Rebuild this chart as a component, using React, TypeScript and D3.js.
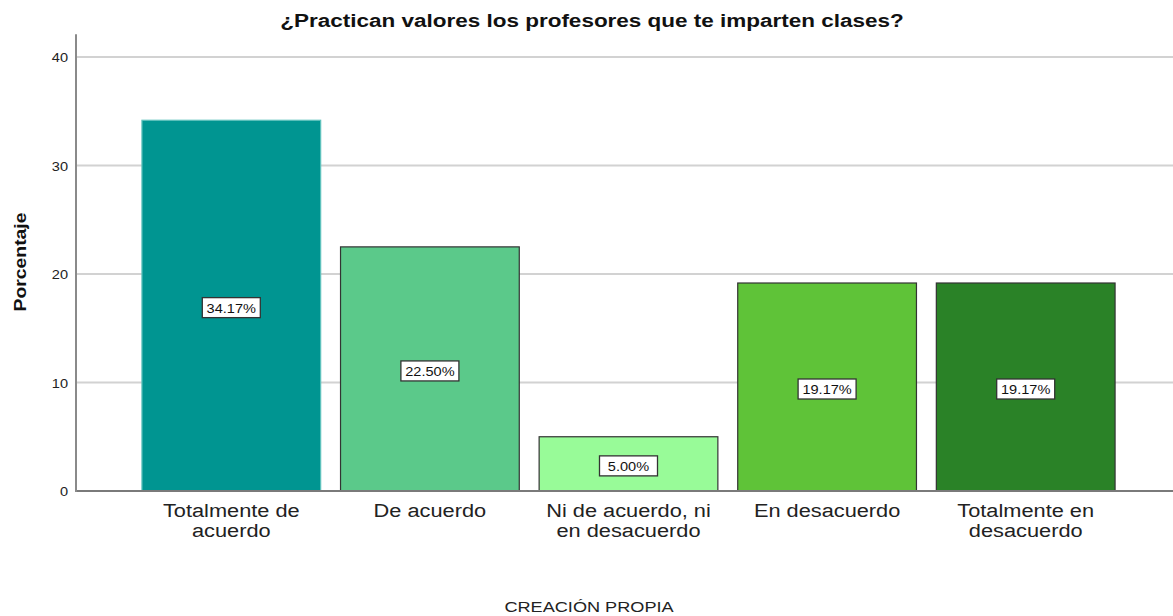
import * as d3 from "d3";

const categories = [
  ["Totalmente de", "acuerdo"],
  ["De acuerdo"],
  ["Ni de acuerdo, ni", "en desacuerdo"],
  ["En desacuerdo"],
  ["Totalmente en", "desacuerdo"],
];
const values = [34.17, 22.5, 5.0, 19.17, 19.17];
const colors = ["#009591", "#5bc98a", "#98fb98", "#5fc338", "#2a8227"];
const strokes = ["#5fc2bd", "#333333", "#333333", "#333333", "#333333"];
const yTicks = [0, 10, 20, 30, 40];

const W = 1173;
const H = 616;
const FONT = "'Liberation Sans', Arial, sans-serif";

// the original text is set a bit wider than Liberation Sans, stretch it
function Label({
  x,
  y,
  sx = 1.2,
  anchor = "middle",
  children,
  ...rest
}: any) {
  return (
    <text
      transform={`translate(${x},${y}) scale(${sx},1)`}
      textAnchor={anchor}
      {...rest}
    >
      {children}
    </text>
  );
}

export default function App() {
  const left = 76;
  const right = W;
  const bottom = 491;

  const x = d3
    .scaleBand<number>()
    .domain(values.map((_, i) => i))
    .range([132, 1125])
    .paddingInner(0.1)
    .paddingOuter(0.05);

  const y = d3.scaleLinear().domain([0, 40]).range([bottom, 57]);

  return (
    <svg
      width={W}
      height={H}
      style={{ position: "absolute", left: 0, top: 0, background: "#fff" }}
      fontFamily={FONT}
    >
      {/* grid */}
      {yTicks.map((t) => (
        <line
          key={t}
          x1={left}
          x2={right}
          y1={y(t)}
          y2={y(t)}
          stroke="#d2d2d2"
          strokeWidth={2}
        />
      ))}

      {/* bars */}
      {values.map((v, i) => (
        <rect
          key={i}
          x={x(i)}
          y={y(v)}
          width={x.bandwidth()}
          height={bottom - y(v)}
          fill={colors[i]}
          stroke={strokes[i]}
          strokeWidth={1.2}
        />
      ))}

      {/* axes */}
      <line x1={left} x2={right} y1={bottom} y2={bottom} stroke="#7a7a7a" strokeWidth={2} />
      <line x1={left} x2={left} y1={y(42.1)} y2={bottom + 1} stroke="#8a8a8a" strokeWidth={2} />
      {yTicks.map((t) => (
        <Label
          key={t}
          x={left - 8}
          y={y(t) + 5}
          sx={1.12}
          anchor="end"
          fontSize={13}
          fill="#222"
        >
          {t}
        </Label>
      ))}

      {/* value labels */}
      {values.map((v, i) => {
        const cx = (x(i) ?? 0) + x.bandwidth() / 2;
        const cy = y(v / 2) + 2;
        const bw = 58;
        const bh = 20;
        return (
          <g key={i}>
            <rect
              x={cx - bw / 2}
              y={cy - bh / 2}
              width={bw}
              height={bh}
              fill="#fff"
              stroke="#333"
              strokeWidth={1.3}
            />
            <Label x={cx} y={cy + 5} sx={1.12} fontSize={13} fill="#111">
              {v.toFixed(2)}%
            </Label>
          </g>
        );
      })}

      {/* category labels */}
      {categories.map((lines, i) => {
        const cx = (x(i) ?? 0) + x.bandwidth() / 2;
        return (
          <g key={i}>
            {lines.map((l, j) => (
              <Label key={j} x={cx} y={517 + j * 20} sx={1.21} fontSize={18} fill="#222">
                {l}
              </Label>
            ))}
          </g>
        );
      })}

      {/* titles */}
      <Label x={592} y={27} sx={1.25} fontSize={18} fontWeight="bold" fill="#111">
        ¿Practican valores los profesores que te imparten clases?
      </Label>
      <text
        transform={`translate(26, 262) rotate(-90) scale(1.14,1)`}
        textAnchor="middle"
        fontSize={17}
        fontWeight="bold"
        fill="#111"
      >
        Porcentaje
      </text>
      <Label x={589} y={612} sx={1.21} fontSize={15} fill="#222">
        CREACIÓN PROPIA
      </Label>
    </svg>
  );
}
